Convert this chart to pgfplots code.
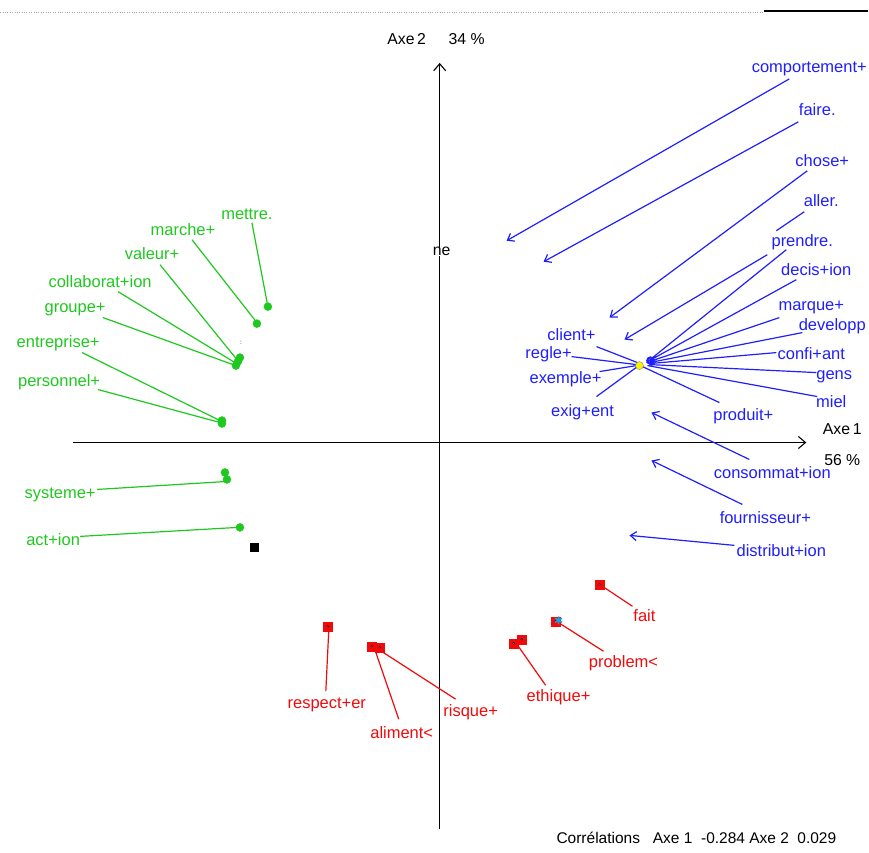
\documentclass[border=0pt]{standalone}
\usepackage{fontspec}
\setmainfont{Liberation Sans}
\usepackage{pgfplots}
\usepackage{pgfplotstable}
\pgfplotsset{compat=1.18}
\usetikzlibrary{arrows.meta}
\definecolor{lgreen}{RGB}{30,200,30}
\definecolor{lblue}{RGB}{30,30,255}
\definecolor{lred}{RGB}{240,10,10}
\newcommand{\lf}{\fontsize{16.5bp}{19bp}\selectfont}
\newcommand{\bkf}{\fontsize{15.8bp}{18bp}\selectfont}

\pgfplotstableread{
x y label
247 214 mettre.
183 230 marche+
152 254 valeur+
100 282 collaborat+ion
75 310 groupe+
58 344 entreprise+
59 383 personnel+
60 495 systeme+
53 540 act+ion
}\greenlabels

\pgfplotstableread{
x y
252 223
268 307
nan nan
192 240
257 323
nan nan
160 265
237 360
nan nan
118 292
235 363
nan nan
103 318
233 365
nan nan
82 353
222 422
nan nan
98 390
220 423
nan nan
97 490
227 482
nan nan
80 537
238 528
}\greenlines

\pgfplotstableread{
x y
268 307
257 324
240 358
238 362
236 366
222 421
222 424
225 473
227 480
240 528
}\greenpts

\pgfplotstableread{
x y label
810 69 comportement+
818 110 faire.
823 161 chose+
822 201 aller.
803 243 prendre.
817 270 decis+ion
812 308 marque+
833 327 developp
812 354 confi+ant
835 377 gens
832 402 miel
744 417 produit+
572 335 client+
549 355 regle+
566 380 exemple+
583 413 exig+ent
773 473 consommat+ion
766 518 fournisseur+
782 551 distribut+ion
}\bluelabels

\pgfplotstableread{
x y
805 212
777 231
nan nan
787 250
647 363
nan nan
797 280
650 361
nan nan
780 318
650 362
nan nan
803 333
650 363
nan nan
777 353
650 364
nan nan
817 373
650 365
nan nan
818 397
648 366
nan nan
720 403
643 367
nan nan
597 347
638 363
nan nan
572 357
637 365
nan nan
600 372
637 366
nan nan
597 397
638 367
}\bluelines

\pgfplotstableread{
x y label
645 616 fait
624 664 problem<
559 698 ethique+
327 706 respect+er
402 733 aliment<
471 713 risque+
}\redlabels

\pgfplotstableread{
x y
633 607
600 585
nan nan
604 652
560 624
nan nan
546 686
518 646
nan nan
326 692
329 630
nan nan
399 720
375 650
nan nan
456 700
380 651
}\redlines

\pgfplotstableread{
x y
600 585
556 622
514 644
522 640
328 627
372 647
380 648
}\redpts

\begin{document}
\begin{tikzpicture}
\begin{axis}[
  x=1bp, y=1bp, y dir=reverse,
  xmin=0, xmax=869, ymin=0, ymax=853,
  hide axis, clip=false,
  unbounded coords=jump,
  every node near coord/.append style={anchor=center, font=\lf, inner sep=0pt},
]
% frame extent
\addplot[draw=none, mark=none, forget plot] coordinates {(0,0) (869,853)};
% top rule
\addplot[gray!70, dotted, mark=none] coordinates {(0,12) (765,12)};
\addplot[black, line width=1.6bp, mark=none] coordinates {(765,11) (869,11)};
% axes
\addplot[black, line width=1.1bp, mark=none, -{Straight Barb[length=7bp, width=12bp]}] coordinates {(73,443) (807,443)};
\addplot[black, line width=1.1bp, mark=none, -{Straight Barb[length=7bp, width=12bp]}] coordinates {(440,830) (440,63)};

% green
\addplot[lgreen, line width=1.2bp, mark=none] table {\greenlines};
\addplot[only marks, mark=*, mark size=4bp, mark options={draw=lgreen, fill=lgreen}] table {\greenpts};
\addplot[draw=none, mark=none, nodes near coords, point meta=explicit symbolic,
  every node near coord/.append style={text=lgreen}] table[meta=label] {\greenlabels};
\addplot[only marks, mark=square*, mark size=4bp, black] coordinates {(254,548)};

% blue
\addplot[lblue, line width=1.2bp, mark=none] table {\bluelines};
\addplot[lblue, line width=1.2bp, mark=none, -{Straight Barb[length=6bp, width=9bp]}] coordinates {(790,79) (507,241)};
\addplot[lblue, line width=1.2bp, mark=none, -{Straight Barb[length=6bp, width=9bp]}] coordinates {(799,122) (544,262)};
\addplot[lblue, line width=1.2bp, mark=none, -{Straight Barb[length=6bp, width=9bp]}] coordinates {(808,171) (610,318)};
\addplot[lblue, line width=1.2bp, mark=none, -{Straight Barb[length=6bp, width=9bp]}] coordinates {(768,255) (625,340)};
\addplot[lblue, line width=1.2bp, mark=none, -{Straight Barb[length=6bp, width=9bp]}] coordinates {(750,460) (652,413)};
\addplot[lblue, line width=1.2bp, mark=none, -{Straight Barb[length=6bp, width=9bp]}] coordinates {(743,505) (652,461)};
\addplot[lblue, line width=1.2bp, mark=none, -{Straight Barb[length=6bp, width=9bp]}] coordinates {(735,546) (630,536)};
\addplot[only marks, mark=o, mark size=3.2bp, mark options={lblue, line width=2bp}] coordinates {(651,361)};
\addplot[only marks, mark=*, mark size=4bp, mark options={draw=black!50, fill=yellow}] coordinates {(640,366)};
\addplot[draw=none, mark=none, nodes near coords, point meta=explicit symbolic,
  every node near coord/.append style={text=lblue}] table[meta=label] {\bluelabels};

% red
\addplot[lred, line width=1.2bp, mark=none] table {\redlines};
\addplot[only marks, mark=square*, mark size=4.5bp, mark options={lred}] table {\redpts};
\addplot[only marks, mark=*, mark size=0.9bp, mark options={draw=none, fill=white}] table {\redpts};
\addplot[only marks, mark=asterisk, mark size=4bp, mark options={cyan!80!teal, line width=1.5bp}] coordinates {(559,621)};
\addplot[draw=none, mark=none, nodes near coords, point meta=explicit symbolic,
  every node near coord/.append style={text=lred}] table[meta=label] {\redlabels};

% text
\node[font=\bkf, inner sep=0pt] at (axis cs:407,39) {Axe\,2};
\node[font=\bkf, inner sep=0pt] at (axis cs:467,39) {34 \%};
\node[font=\bkf, inner sep=0pt] at (axis cs:843,430) {Axe\,1};
\node[font=\bkf, inner sep=0pt] at (axis cs:843,461) {56 \%};
\node[font=\bkf, inner sep=0pt, fill=white] at (axis cs:442,252) {ne};
\node[font=\fontsize{6bp}{7bp}\selectfont, inner sep=0pt] at (axis cs:241,343) {:};
\node[font=\fontsize{15.5bp}{18bp}\selectfont, inner sep=0pt] at (axis cs:697,839) {Corrélations\ \ \ Axe 1\ \ -0.284 Axe 2\ \ 0.029};
\end{axis}
\end{tikzpicture}
\end{document}
